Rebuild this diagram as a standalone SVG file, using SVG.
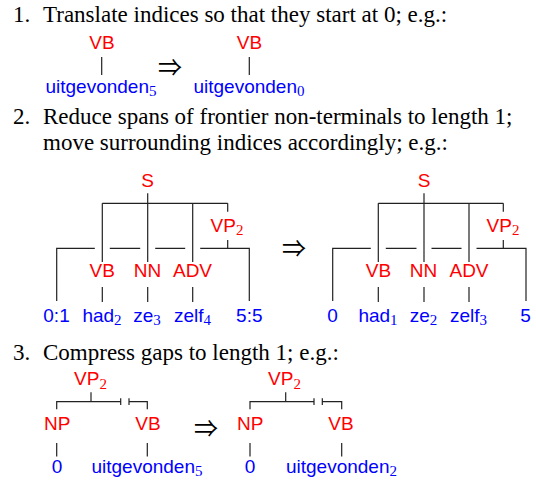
<svg xmlns="http://www.w3.org/2000/svg" width="536" height="480" viewBox="0 0 536 480">
<style>
.body{font-family:"Liberation Serif","Times New Roman",serif;font-size:23px;fill:#000}
.lab{font-family:"Liberation Sans",Arial,sans-serif;font-size:19px;fill:#ff0000;text-anchor:middle}
.leaf{font-family:"Liberation Sans",Arial,sans-serif;font-size:19px;fill:#0000ff;text-anchor:middle}
.sub{font-family:"Liberation Serif","Times New Roman",serif;font-size:15px}
.arr{font-family:"Noto Sans CJK JP","DejaVu Sans",sans-serif;font-size:24px;fill:#000;text-anchor:middle}
.ln{fill:none;stroke:#222;stroke-width:1.2}
</style>
<rect width="536" height="480" fill="#fff"/>

<g id="text">
<text class="body" x="13" y="22">1.</text>
<text class="body" x="43" y="22">Translate indices so that they start at 0; e.g.:</text>
<text class="body" x="13" y="124">2.</text>
<text class="body" x="43" y="124">Reduce spans of frontier non-terminals to length 1;</text>
<text class="body" x="43" y="150">move surrounding indices accordingly; e.g.:</text>
<text class="body" x="13" y="360">3.</text>
<text class="body" x="43" y="360">Compress gaps to length 1; e.g.:</text>
<text class="arr" x="170" y="75.5">⇒</text>
<text class="arr" x="294" y="257.3">⇒</text>
<text class="arr" x="206" y="437.3">⇒</text>
</g>

<g id="connectors">
<!-- item 1 -->
<path class="ln" d="M101.7,57V75M249.3,57V75"/>
<!-- item 2 left -->
<path class="ln" d="M147.7,193.3V203.3M102.3,203.3H227.7M102.3,203.3V262M147.7,203.3V262M192.7,203.3V262M227.7,203.3V211.7M227.7,240V248.3"/>
<path class="ln" d="M56.7,301V248.3H94.8M109.8,248.3H140.2M155.2,248.3H185.2M200.2,248.3H249.3V301"/>
<path class="ln" d="M102.3,287V302M147.7,287V302M192.7,287V302"/>
<!-- item 2 right -->
<path class="ln" d="M424,193.3V203.3M378.3,203.3H503.3M378.3,203.3V262M424,203.3V262M469,203.3V262M503.3,203.3V211.7M503.3,240V248.3"/>
<path class="ln" d="M332.7,301V248.3H370.8M385.8,248.3H416.5M431.5,248.3H461.5M476.5,248.3H526V301"/>
<path class="ln" d="M378.3,287V302M424,287V302M469,287V302"/>
<!-- item 3 left -->
<path class="ln" d="M91,392.3V401.7M56.7,409.3V401.7H120.7M120.7,398.3V405M129,398.3V405M129,401.7H147.3V409.3M56.7,443V456.5M147.3,443V456.5"/>
<!-- item 3 right -->
<path class="ln" d="M285.7,392.3V401.7M250,409.3V401.7H314M314,398.3V405M322.3,398.3V405M322.3,401.7H341.7V409.3M250,443V456.5M341.7,443V456.5"/>
</g>

<g id="t1-VB-a"><text class="lab" x="102" y="49.3">VB</text></g>
<g id="t1-leaf-a"><text class="leaf" x="101" y="92.7">uitgevonden<tspan class="sub" dy="3">5</tspan></text></g>
<g id="t1-VB-b"><text class="lab" x="249.5" y="49.3">VB</text></g>
<g id="t1-leaf-b"><text class="leaf" x="249" y="92.7">uitgevonden<tspan class="sub" dy="3">0</tspan></text></g>

<g id="t2a-S"><text class="lab" x="147.7" y="187">S</text></g>
<g id="t2a-VP"><text class="lab" x="227" y="231.7">VP<tspan class="sub" dy="3.5">2</tspan></text></g>
<g id="t2a-VB"><text class="lab" x="102.3" y="277">VB</text></g>
<g id="t2a-NN"><text class="lab" x="147.5" y="277">NN</text></g>
<g id="t2a-ADV"><text class="lab" x="192.5" y="277">ADV</text></g>
<g id="t2a-l0"><text class="leaf" x="56.5" y="322">0:1</text></g>
<g id="t2a-l1"><text class="leaf" x="102" y="322">had<tspan class="sub" dy="3">2</tspan></text></g>
<g id="t2a-l2"><text class="leaf" x="147" y="322">ze<tspan class="sub" dy="3">3</tspan></text></g>
<g id="t2a-l3"><text class="leaf" x="192.5" y="322">zelf<tspan class="sub" dy="3">4</tspan></text></g>
<g id="t2a-l4"><text class="leaf" x="249.3" y="322">5:5</text></g>

<g id="t2b-S"><text class="lab" x="424" y="187">S</text></g>
<g id="t2b-VP"><text class="lab" x="503" y="231.7">VP<tspan class="sub" dy="3.5">2</tspan></text></g>
<g id="t2b-VB"><text class="lab" x="378.5" y="277">VB</text></g>
<g id="t2b-NN"><text class="lab" x="423.5" y="277">NN</text></g>
<g id="t2b-ADV"><text class="lab" x="469" y="277">ADV</text></g>
<g id="t2b-l0"><text class="leaf" x="332.5" y="322">0</text></g>
<g id="t2b-l1"><text class="leaf" x="378" y="322">had<tspan class="sub" dy="3">1</tspan></text></g>
<g id="t2b-l2"><text class="leaf" x="423.5" y="322">ze<tspan class="sub" dy="3">2</tspan></text></g>
<g id="t2b-l3"><text class="leaf" x="468.5" y="322">zelf<tspan class="sub" dy="3">3</tspan></text></g>
<g id="t2b-l4"><text class="leaf" x="525.5" y="322">5</text></g>

<g id="t3a-VP"><text class="lab" x="90.5" y="385">VP<tspan class="sub" dy="3.5">2</tspan></text></g>
<g id="t3a-NP"><text class="lab" x="57.3" y="430">NP</text></g>
<g id="t3a-VB"><text class="lab" x="148" y="430">VB</text></g>
<g id="t3a-l0"><text class="leaf" x="57" y="473.3">0</text></g>
<g id="t3a-l1"><text class="leaf" x="147" y="473.3">uitgevonden<tspan class="sub" dy="3">5</tspan></text></g>

<g id="t3b-VP"><text class="lab" x="284.5" y="385">VP<tspan class="sub" dy="3.5">2</tspan></text></g>
<g id="t3b-NP"><text class="lab" x="250.3" y="430">NP</text></g>
<g id="t3b-VB"><text class="lab" x="341" y="430">VB</text></g>
<g id="t3b-l0"><text class="leaf" x="250" y="473.3">0</text></g>
<g id="t3b-l1"><text class="leaf" x="341.5" y="473.3">uitgevonden<tspan class="sub" dy="3">2</tspan></text></g>
</svg>
